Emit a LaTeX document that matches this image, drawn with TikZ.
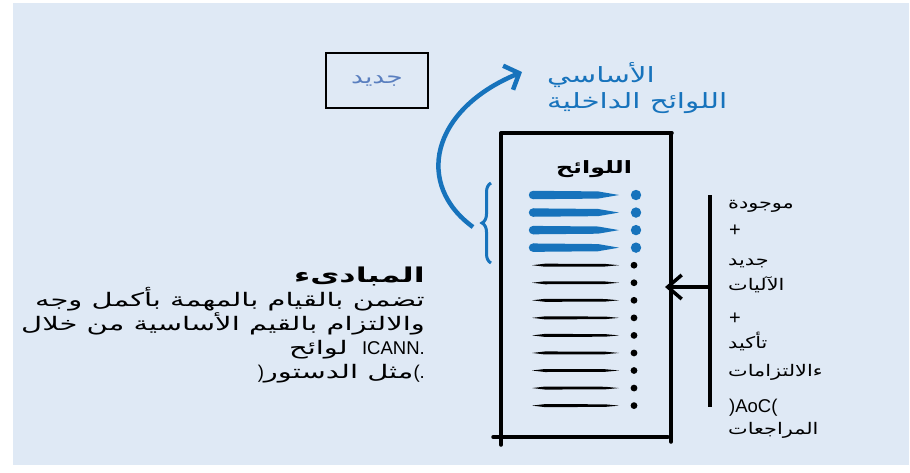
\documentclass[tikz,border=0pt]{standalone}
\usepackage{fontspec}
\usetikzlibrary{arrows.meta,decorations.pathreplacing}
\TeXXeTstate=1
\newfontfamily\arw[Script=Arabic,FakeStretch=1.55]{DejaVu Sans}
\newfontfamily\arblue[Script=Arabic,FakeStretch=1.4]{DejaVu Sans}
\newfontfamily\arcol[Script=Arabic,FakeStretch=1.3]{DejaVu Sans}
\newfontfamily\latinfont{Liberation Sans}
\definecolor{bgc}{HTML}{DFE9F5}
\definecolor{rblue}{HTML}{1773BC}
\definecolor{lblue}{HTML}{5A7FBF}
\begin{document}
\begin{tikzpicture}[x=1pt,y=-1pt,
  bodytxt/.style={font=\arw\fontsize{18.7}{22}\selectfont, inner sep=0pt, anchor=base east},
  coltxt/.style={font=\arcol\fontsize{16}{18}\selectfont, inner sep=0pt, anchor=base west},
  colplus/.style={font=\latinfont\fontsize{20}{22}\selectfont, inner sep=0pt, anchor=base west},
  bluetxt/.style={font=\arblue\fontsize{21}{24}\selectfont, text=rblue, inner sep=0pt, anchor=base west},
  docline/.style={line width=3.5pt, line cap=round, black},
]
\useasboundingbox (0,0) rectangle (910,472);
\fill[bgc] (13,3) rectangle (909,465);

% new box
\node[draw, line width=1.4pt, minimum width=102pt, minimum height=55pt, inner sep=0pt,
      font=\arblue\fontsize{19}{20}\selectfont, text=lblue] (newbox) at (377,80.5) {جديد};

% blue title text
\node[bluetxt] (bt1) at (547,82) {الأساسي};
\node[bluetxt] (bt2) at (547,108) {\beginR اللوائح الداخلية\endR};

% document box
\coordinate (dTL) at (501,133);
\coordinate (dBL) at (501,445);
\coordinate (dTR) at (671,133);
\coordinate (dBR) at (671,442);
\coordinate (dB1) at (493,437);
\coordinate (dB2) at (668,437);
\coordinate (dT2) at (672,133);
\draw[docline] (dTL) -- (dBL);
\draw[docline] (dTL) -- (dT2);
\draw[docline] (dTR) -- (dBR);
\draw[docline] (dB1) -- (dB2);
\node[font=\arblue\bfseries\fontsize{17}{18}\selectfont, inner sep=0pt, anchor=base] (doctitle) at (594,173) {اللوائح};

\foreach \i in {0,...,3} {
  \pgfmathsetmacro\yy{195+17.55*\i}
  \fill[rblue] (533,\yy-4.2) -- (598,\yy-3.6) -- (619,\yy) -- (598,\yy+3.6) -- (533,\yy+4.2) -- cycle;
  \fill[rblue] (533,\yy) circle[radius=4.2pt];
  \fill[rblue] (636,\yy) circle[radius=5.2pt];
}
\foreach \i in {4,...,12} {
  \pgfmathsetmacro\yy{195+17.55*\i}
  \fill[black] (532,\yy) -- (545,\yy-1.5) -- (605,\yy-1.3) -- (619,\yy) -- (605,\yy+1.3) -- (545,\yy+1.5) -- cycle;
  \fill[black] (634,\yy) circle[radius=3.4pt];
}

% brace and curved arrow
\coordinate (brB) at (491,263);
\coordinate (brT) at (491,183);
\draw[rblue, line width=3pt, decorate, decoration={brace, amplitude=9pt}] (brB) -- (brT);
\coordinate (arrS) at (473,227);
\coordinate (arrE) at (522,72);
\draw[rblue, line width=4.5pt, -{Straight Barb[length=12pt, width=26pt]}]
  (arrS) .. controls (415,185) and (430,110) .. (arrE);

% right bar and arrow
\coordinate (barT) at (710,195);
\coordinate (barB) at (710,407);
\coordinate (barM) at (710,287);
\coordinate (boxR) at (665,287);
\draw[line width=4pt] (barT) -- (barB);
\draw[line width=3.5pt, -{Straight Barb[length=14pt, width=24pt]}] (barM) -- (boxR);

% right column
\node[coltxt] (c1) at (728,208) {موجودة};
\node[colplus] (c2) at (729,236) {+};
\node[coltxt] (c3) at (728,265) {جديد};
\node[coltxt] (c4) at (728,290) {الآليات};
\node[colplus] (c5) at (729,324) {+};
\node[coltxt] (c6) at (728,348) {تأكيد};
\node[coltxt] (c7) at (728,376) {الالتزامات\kern0pt ء};
\node[colplus, font=\latinfont\fontsize{18.5}{20}\selectfont] (c8) at (729,412) {)AoC(};
\node[coltxt] (c9) at (728,434) {المراجعات};

% left text block
\node[bodytxt, font=\arw\bfseries\fontsize{20.5}{24}\selectfont] (h1) at (425,282) {المبادىء};
\node[bodytxt] (l1) at (425,306) {\beginR تضمن بالقيام بالمهمة بأكمل وجه\endR};
\node[bodytxt] (l2) at (425,330) {\beginR والالتزام بالقيم الأساسية من خلال\endR};
\node[bodytxt] (l3) at (425,354) {لوائح {\latinfont\fontsize{18.5}{20}\selectfont\ ICANN.}};
\node[bodytxt] (l4) at (425,378) {{\latinfont\fontsize{18.5}{20}\selectfont )}\beginR مثل الدستور\endR{\latinfont\fontsize{18.5}{20}\selectfont (.}};
\end{tikzpicture}
\end{document}
